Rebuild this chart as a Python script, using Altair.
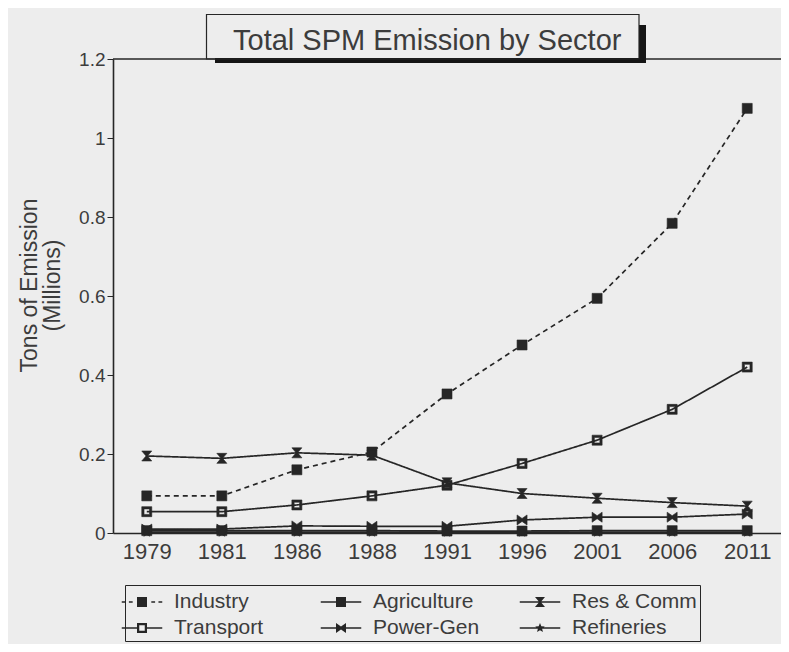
import math
import altair as alt
import pandas as pd

# ---------------- data ----------------
years = ["1979", "1981", "1986", "1988", "1991", "1996", "2001", "2006", "2011"]
sectors = ["Industry", "Agriculture", "Res & Comm", "Transport", "Power-Gen", "Refineries"]
# order in which the legend grid (filled column by column) lists the sectors
legend_order = ["Industry", "Transport", "Agriculture", "Power-Gen", "Res & Comm", "Refineries"]

industry = [0.094, 0.094, 0.160, 0.205, 0.352, 0.476, 0.594, 0.784, 1.075]
agriculture = [0.006, 0.006, 0.006, 0.006, 0.005, 0.005, 0.006, 0.006, 0.006]
res_comm = [0.195, 0.189, 0.203, 0.197, 0.127, 0.100, 0.088, 0.077, 0.068]
transport = [0.054, 0.054, 0.071, 0.094, 0.121, 0.176, 0.235, 0.313, 0.420]
power_gen = [0.010, 0.010, 0.018, 0.017, 0.017, 0.033, 0.040, 0.040, 0.048]
refineries = [0.002, 0.002, 0.002, 0.002, 0.002, 0.002, 0.002, 0.002, 0.002]

y_ticks = [0, 0.2, 0.4, 0.6, 0.8, 1.0, 1.2]

series = [industry, agriculture, res_comm, transport, power_gen, refineries]
rows = []
for s, vals in zip(sectors, series):
    for yr, v in zip(years, vals):
        rows.append({"Year": yr, "Sector": s, "Value": v})
df = pd.DataFrame(rows)

# ---------------- styling ----------------
BG = "#ededed"
INK = "#262626"
TXT = "#3c3c3c"
FONT = "Liberation Sans, Arial, sans-serif"


def poly(pts, k=1.0):
    return "M" + "L".join(f"{x * k:.3f},{y * k:.3f}" for x, y in pts) + "Z"


def bar(x0, x1, h=0.063):
    # a thin filled strip used as the legend's line sample
    return poly([(x0, -h), (x1, -h), (x1, h), (x0, h)])


SQ = [(-1, -1), (1, -1), (1, 1), (-1, 1)]
SQ_IN = [(-0.55, -0.55), (-0.55, 0.55), (0.55, 0.55), (0.55, -0.55)]
HOUR = [(-1, -1), (1, -1), (0.15, 0), (1, 1), (-1, 1), (-0.15, 0)]
BOW = [(-1, -1), (0, -0.3), (1, -1), (1, 1), (0, 0.3), (-1, 1)]
STAR = []
for i in range(10):
    r = 1.0 if i % 2 == 0 else 0.45
    a = -math.pi / 2 + i * math.pi / 5
    STAR.append((r * math.cos(a), r * math.sin(a)))

marker_parts = {
    "Industry": [SQ],
    "Agriculture": [SQ],
    "Res & Comm": [HOUR],
    "Transport": [SQ, SQ_IN],
    "Power-Gen": [BOW],
    "Refineries": [STAR],
}


def marker(name, k=1.0):
    return "".join(poly(p, k) for p in marker_parts[name])


def legend_symbol(name):
    # legend swatch: line sample wider than the nominal symbol box, plus the marker
    k = 0.37
    if name == "Industry":
        line = bar(-1.5, -1.22) + bar(-0.97, -0.69) + bar(0.69, 0.97) + bar(1.22, 1.5)
    elif name == "Transport":
        line = bar(-1.5, -0.37) + bar(0.37, 1.5)
    else:
        line = bar(-1.5, 1.5)
    return line + marker(name, k)


point_shapes = [marker(s) for s in sectors]
legend_shapes = [legend_symbol(s) for s in legend_order]
dashes = [[5, 4] if s == "Industry" else [1, 0] for s in sectors]

x_enc = alt.X(
    "Year:O",
    sort=years,
    scale=alt.Scale(type="point", padding=0.45),
    axis=alt.Axis(
        title=None, labelAngle=0, ticks=False, labelPadding=8, labelFontSize=22,
        labelFont=FONT, labelColor=TXT, domainColor=INK, domainWidth=1.6,
        grid=False,
    ),
)
y_enc = alt.Y(
    "Value:Q",
    scale=alt.Scale(domain=[0, 1.2], nice=False),
    axis=alt.Axis(
        values=y_ticks, format="~g", title=["Tons of Emission", "(Millions)"],
        titleFont=FONT, titleFontSize=23, titleLineHeight=23,
        titleFontWeight="normal", titleColor=TXT, titlePadding=14, titleY=226,
        labelFont=FONT, labelFontSize=19, labelColor=TXT, labelPadding=2,
        tickSize=6, tickColor=INK, domainColor=INK, domainWidth=1.6, grid=False,
    ),
)

base = alt.Chart(df)

lines = base.mark_line(color=INK, strokeWidth=1.7).encode(
    x=x_enc,
    y=y_enc,
    strokeDash=alt.StrokeDash(
        "Sector:N", scale=alt.Scale(domain=sectors, range=dashes), legend=None
    ),
    detail="Sector:N",
)

points = base.mark_point(
    filled=True, size=100, fill=INK, stroke=INK, strokeWidth=0.6, opacity=1
).encode(
    x=x_enc,
    y=y_enc,
    shape=alt.Shape(
        "Sector:N", scale=alt.Scale(domain=sectors, range=point_shapes), legend=None
    ),
)

legend_layer = base.mark_point(
    filled=True, fill=INK, stroke=INK, strokeWidth=1.0, opacity=0
).encode(
    x=x_enc,
    y=y_enc,
    shape=alt.Shape(
        "Sector:N",
        scale=alt.Scale(domain=legend_order, range=legend_shapes),
        legend=alt.Legend(
            title=None, orient="none", legendX=12, legendY=526, columns=3,
            strokeColor=INK, fillColor=BG, padding=3, gridAlign="all",
            columnPadding=19, rowPadding=2, labelFont=FONT, labelFontSize=21,
            labelColor=TXT, labelOffset=18, labelLimit=300, symbolSize=729,
            symbolStrokeWidth=1.0, symbolFillColor=INK, symbolStrokeColor=INK,
            symbolOpacity=1,
        ),
    ),
)

top_rule = alt.Chart(pd.DataFrame({"v": [1.2]})).mark_rule(
    color=INK, strokeWidth=1.5
).encode(y=alt.Y("v:Q", scale=alt.Scale(domain=[0, 1.2], nice=False)))

frame_src = alt.Chart(pd.DataFrame({"k": [0]}))
shadow_bottom = frame_src.mark_rect(fill="#151515").encode(
    x=alt.value(102), x2=alt.value(533), y=alt.value(-1), y2=alt.value(4)
)
shadow_right = frame_src.mark_rect(fill="#151515").encode(
    x=alt.value(526), x2=alt.value(533), y=alt.value(-34), y2=alt.value(4)
)
title_box = frame_src.mark_rect(
    fill=BG, fillOpacity=0, stroke=INK, strokeWidth=1.2
).encode(
    x=alt.value(93.5), x2=alt.value(526), y=alt.value(-44.5), y2=alt.value(0)
)

chart = (
    alt.layer(top_rule, shadow_bottom, shadow_right, title_box, lines, points,
              legend_layer)
    .resolve_scale(shape="independent")
    .properties(
        width=668,
        height=474,
        background=BG,
        padding={"left": 105, "top": 51, "right": 0, "bottom": 111},
        autosize=alt.AutoSizeParams(type="none"),
        title=alt.TitleParams(
            "Total SPM Emission by Sector", anchor="start", frame="group", dx=120,
            fontSize=29, font=FONT, fontWeight="normal", color=TXT, offset=0,
            baseline="alphabetic", dy=65,
        ),
    )
    .configure_view(stroke=None)
)

chart.save("out.html", embed_options={"renderer": "svg", "actions": False})
